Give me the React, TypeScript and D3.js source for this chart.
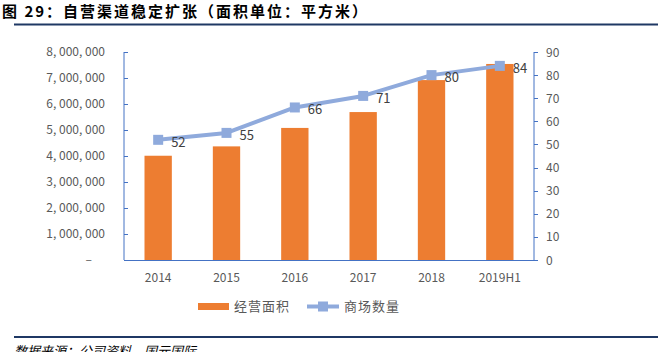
import { useEffect, useRef } from "react";
import * as d3 from "d3";

const categories = ["2014", "2015", "2016", "2017", "2018", "2019H1"];
const areaValues = [4010000, 4370000, 5080000, 5690000, 6920000, 7540000];
const storeCounts = [52, 55, 66, 71, 80, 84];
const leftTicks = [0, 1000000, 2000000, 3000000, 4000000, 5000000, 6000000, 7000000, 8000000];
const rightTicks = [0, 10, 20, 30, 40, 50, 60, 70, 80, 90];
const seriesNames = ["经营面积", "商场数量"];

const W = 661;
const H = 352;
const FONT = "'Noto Sans CJK SC', 'Noto Sans', sans-serif";
const AXIS_COLOR = "#4472C4";
const BAR_COLOR = "#ED7D31";
const LINE_COLOR = "#8FAADC";
const NAVY = "#1F3864";

const App = () => {
  const svgRef = useRef<SVGSVGElement | null>(null);

  useEffect(() => {
    if (!svgRef.current) return;
    const svg = d3.select(svgRef.current);
    svg.selectAll("*").remove();

    const plot = { left: 124, right: 534, top: 52, bottom: 260 };

    // title and rules
    svg.append("text")
      .attr("x", 2)
      .attr("y", 17)
      .attr("font-family", FONT)
      .attr("font-weight", "bold")
      .attr("font-size", 15)
      .attr("letter-spacing", 2)
      .attr("fill", "#000")
      .text("图 29：自营渠道稳定扩张（面积单位：平方米）");

    svg.append("line")
      .attr("x1", 14).attr("x2", 658)
      .attr("y1", 24.5).attr("y2", 24.5)
      .attr("stroke", NAVY).attr("stroke-width", 2);

    svg.append("line")
      .attr("x1", 14).attr("x2", 658)
      .attr("y1", 337).attr("y2", 337)
      .attr("stroke", NAVY).attr("stroke-width", 2);

    svg.append("text")
      .attr("x", 14)
      .attr("y", 356)
      .attr("font-family", FONT)
      .attr("font-style", "italic")
      .attr("font-size", 13)
      .attr("fill", "#000")
      .text("数据来源：公司资料，国元国际");

    const x = d3.scaleBand<string>()
      .domain(categories)
      .range([plot.left, plot.right])
      .paddingInner(0.6)
      .paddingOuter(0.3);

    const yL = d3.scaleLinear().domain([0, 8000000]).range([plot.bottom, plot.top]);
    const yR = d3.scaleLinear().domain([0, 90]).range([plot.bottom, plot.top]);

    // bars
    svg.append("g")
      .selectAll("rect")
      .data(areaValues)
      .join("rect")
      .attr("x", (_, i) => x(categories[i])!)
      .attr("y", (d) => yL(d))
      .attr("width", x.bandwidth())
      .attr("height", (d) => yL(0) - yL(d))
      .attr("fill", BAR_COLOR);

    // left axis
    const fmt = d3.format(",");
    const left = svg.append("g");
    left.append("line")
      .attr("x1", plot.left).attr("x2", plot.left)
      .attr("y1", plot.top).attr("y2", plot.bottom)
      .attr("stroke", AXIS_COLOR).attr("stroke-width", 1);
    left.selectAll("line.tick")
      .data(leftTicks)
      .join("line")
      .attr("class", "tick")
      .attr("x1", plot.left).attr("x2", plot.left + 4)
      .attr("y1", (d) => Math.round(yL(d)) + 0.5)
      .attr("y2", (d) => Math.round(yL(d)) + 0.5)
      .attr("stroke", AXIS_COLOR);
    left.selectAll("text")
      .data(leftTicks)
      .join("text")
      .attr("x", (d) => (d === 0 ? 92 : 105))
      .attr("y", (d) => yL(d) + 4)
      .attr("text-anchor", "end")
      .attr("font-family", FONT)
      .attr("font-size", 12)
      .attr("fill", "#595959")
      .text((d) => (d === 0 ? "–" : fmt(d).replace(/,/g, ", ")));

    // right axis
    const right = svg.append("g");
    right.append("line")
      .attr("x1", plot.right).attr("x2", plot.right)
      .attr("y1", plot.top).attr("y2", plot.bottom)
      .attr("stroke", AXIS_COLOR).attr("stroke-width", 1);
    right.selectAll("line.tick")
      .data(rightTicks)
      .join("line")
      .attr("class", "tick")
      .attr("x1", plot.right).attr("x2", plot.right + 4)
      .attr("y1", (d) => Math.round(yR(d)) + 0.5)
      .attr("y2", (d) => Math.round(yR(d)) + 0.5)
      .attr("stroke", AXIS_COLOR);
    right.selectAll("text")
      .data(rightTicks)
      .join("text")
      .attr("x", plot.right + 12)
      .attr("y", (d) => yR(d) + 4.5)
      .attr("font-family", FONT)
      .attr("font-size", 12)
      .attr("fill", "#595959")
      .text((d) => String(d));

    // bottom axis
    svg.append("line")
      .attr("x1", plot.left).attr("x2", plot.right)
      .attr("y1", plot.bottom + 0.5).attr("y2", plot.bottom + 0.5)
      .attr("stroke", AXIS_COLOR).attr("stroke-width", 1);
    svg.append("g")
      .selectAll("text")
      .data(categories)
      .join("text")
      .attr("x", (d) => x(d)! + x.bandwidth() / 2)
      .attr("y", 282)
      .attr("text-anchor", "middle")
      .attr("font-family", FONT)
      .attr("font-size", 12)
      .attr("fill", "#595959")
      .text((d) => d);

    // line series
    const cx = (i: number) => x(categories[i])! + x.bandwidth() / 2;
    const line = d3.line<number>()
      .x((_, i) => cx(i))
      .y((d) => yR(d));
    svg.append("path")
      .datum(storeCounts)
      .attr("fill", "none")
      .attr("stroke", LINE_COLOR)
      .attr("stroke-width", 4)
      .attr("stroke-linejoin", "round")
      .attr("d", line);
    svg.append("g")
      .selectAll("rect")
      .data(storeCounts)
      .join("rect")
      .attr("x", (_, i) => cx(i) - 5)
      .attr("y", (d) => yR(d) - 5)
      .attr("width", 10)
      .attr("height", 10)
      .attr("fill", LINE_COLOR);
    svg.append("g")
      .selectAll("text")
      .data(storeCounts)
      .join("text")
      .attr("x", (_, i) => cx(i) + 13)
      .attr("y", (d) => yR(d) + 7)
      .attr("font-family", FONT)
      .attr("font-size", 13)
      .attr("fill", "#404040")
      .text((d) => String(d));

    // legend
    const lg = svg.append("g");
    lg.append("rect")
      .attr("x", 198).attr("y", 303)
      .attr("width", 31).attr("height", 7)
      .attr("fill", BAR_COLOR);
    lg.append("text")
      .attr("x", 234).attr("y", 311)
      .attr("font-family", FONT)
      .attr("font-size", 13)
      .attr("fill", "#595959")
      .attr("letter-spacing", 1)
      .text(seriesNames[0]);
    lg.append("line")
      .attr("x1", 307).attr("x2", 339)
      .attr("y1", 306.5).attr("y2", 306.5)
      .attr("stroke", LINE_COLOR).attr("stroke-width", 4);
    lg.append("rect")
      .attr("x", 318).attr("y", 301.5)
      .attr("width", 10).attr("height", 10)
      .attr("fill", LINE_COLOR);
    lg.append("text")
      .attr("x", 344).attr("y", 311)
      .attr("font-family", FONT)
      .attr("font-size", 13)
      .attr("fill", "#595959")
      .attr("letter-spacing", 1)
      .text(seriesNames[1]);
  }, []);

  return (
    <svg
      ref={svgRef}
      width={W}
      height={H}
      style={{ position: "absolute", left: 0, top: 0, background: "#fff" }}
    />
  );
};

export default App;
